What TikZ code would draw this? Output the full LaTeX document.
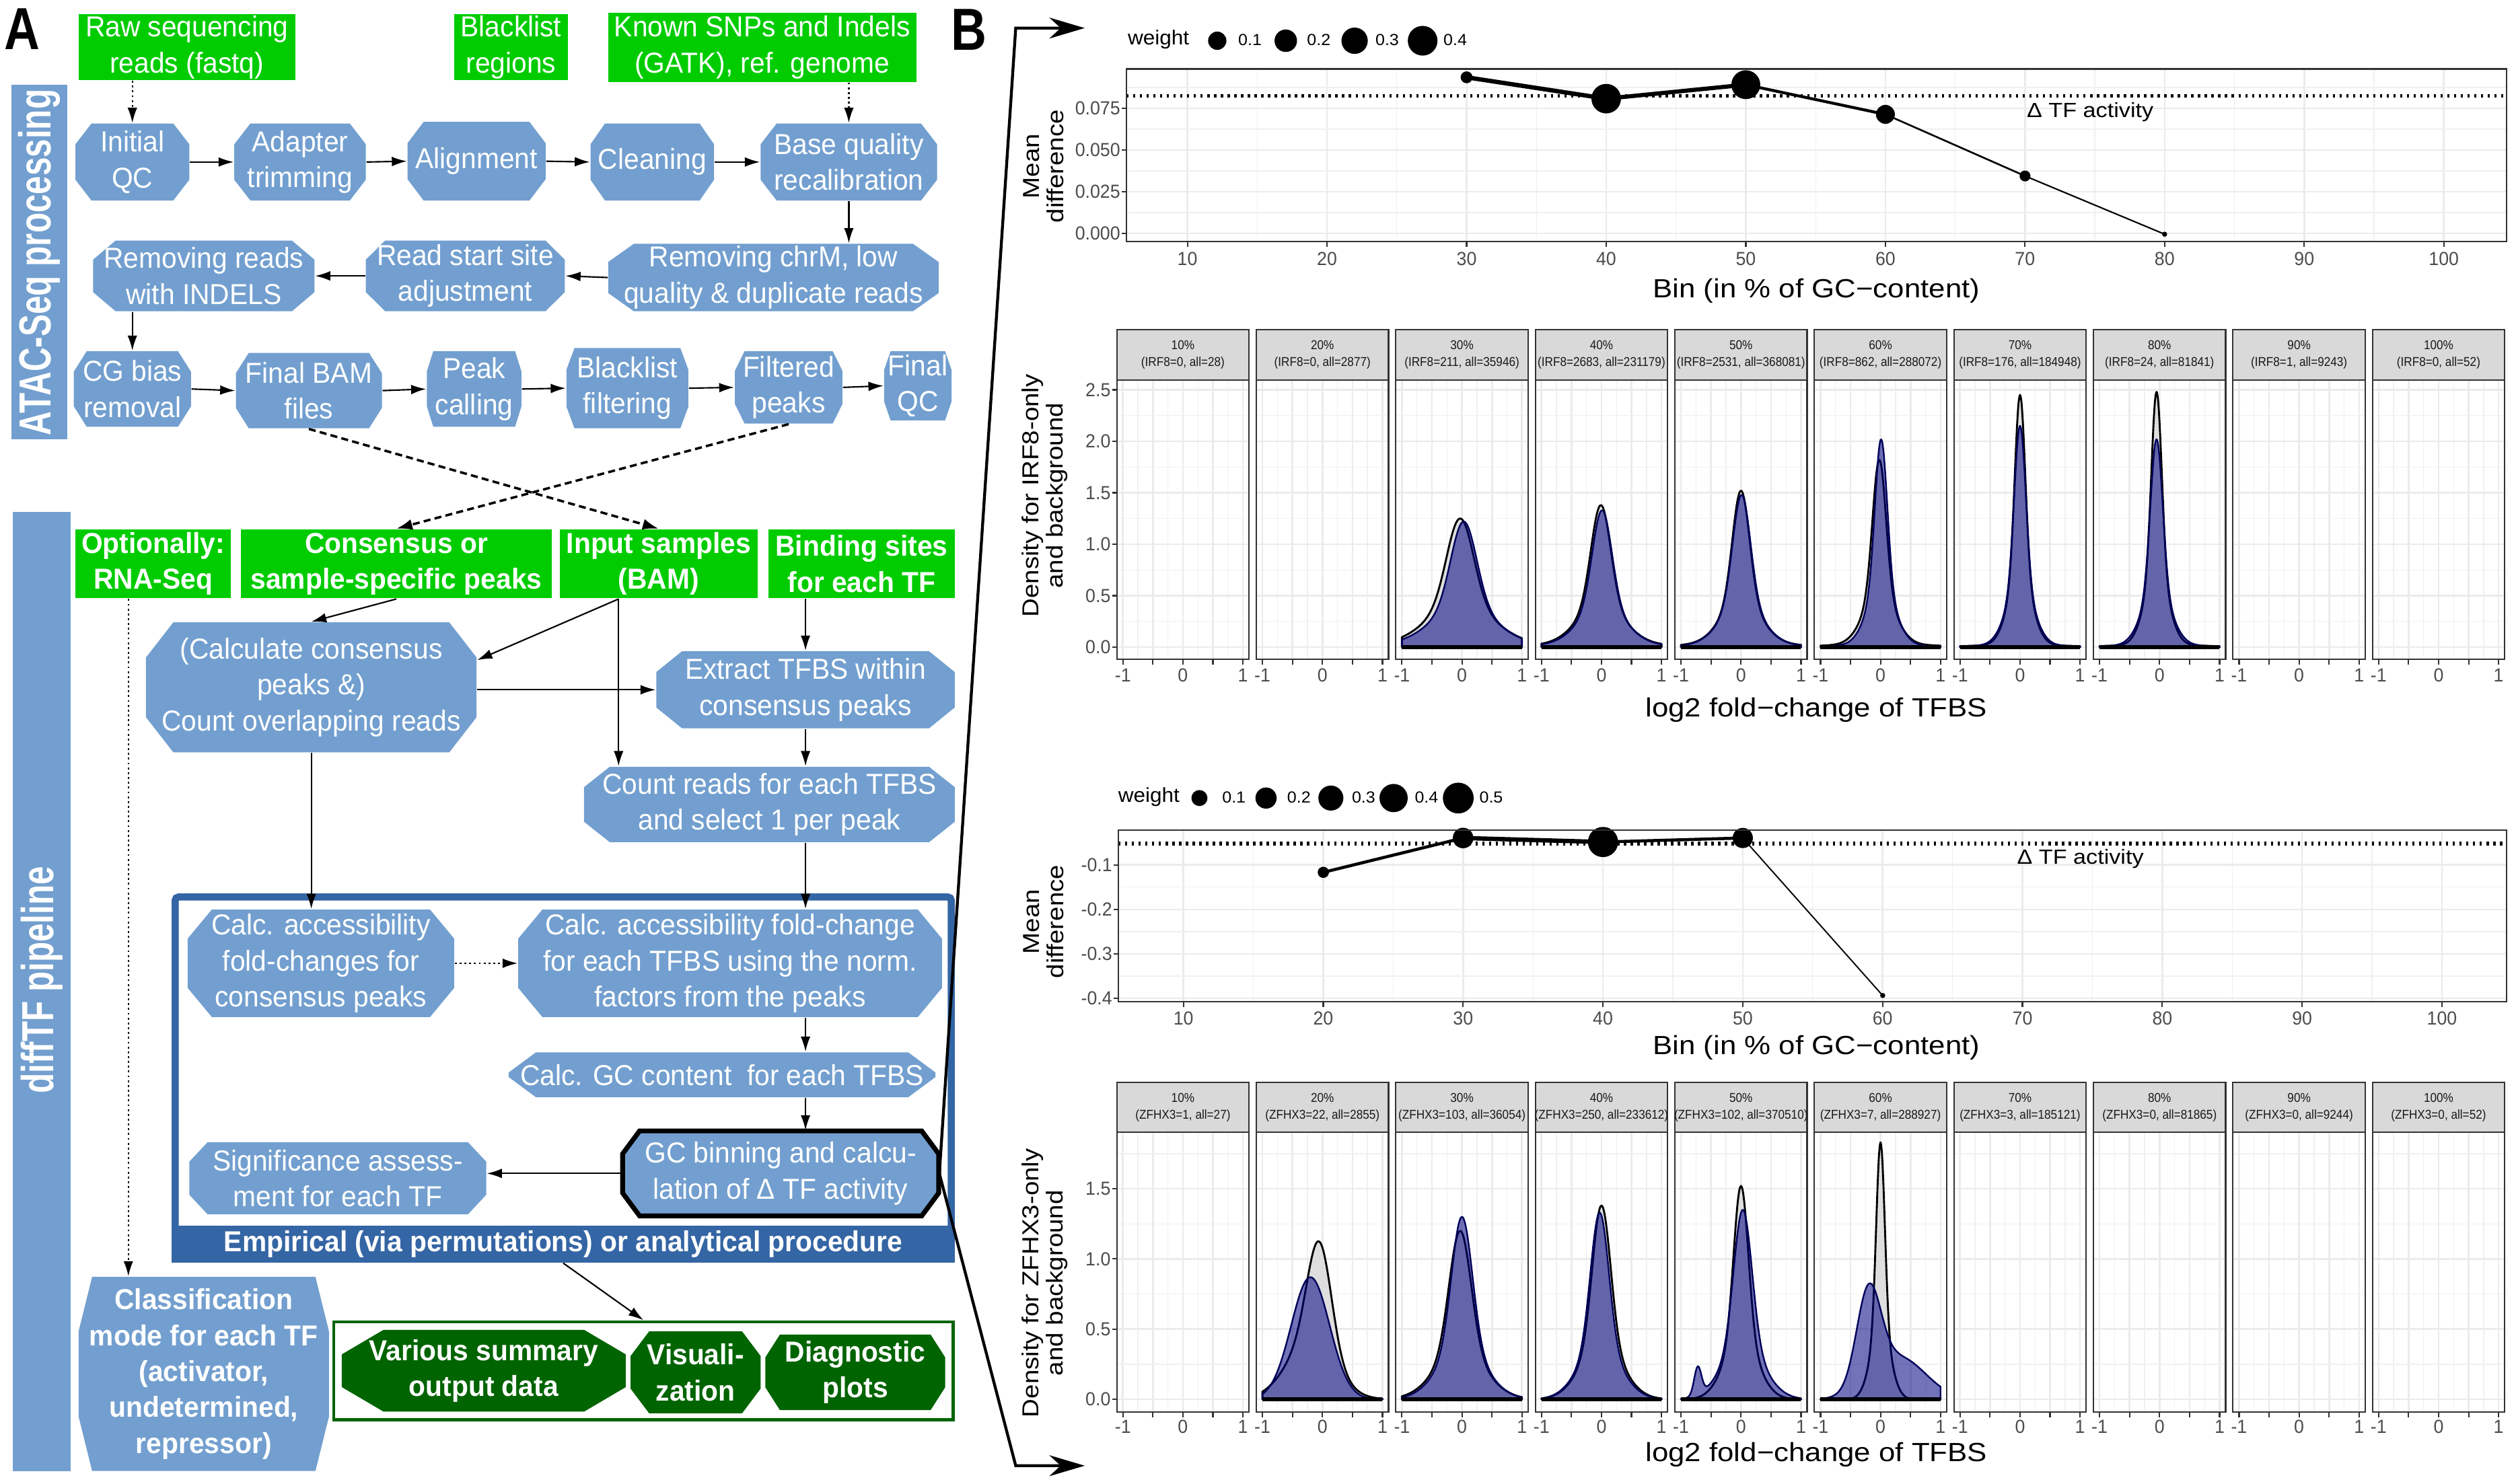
\documentclass[tikz,border=0pt]{standalone}
\usepackage{fontspec}
\setmainfont{Liberation Sans}
\newfontfamily\af[FakeStretch=0.95]{Liberation Sans}
\newfontfamily\sbf[FakeStretch=0.74]{Liberation Sans}
\newfontfamily\lblf[FakeStretch=0.83]{Liberation Sans}
\newfontfamily\tickf[FakeStretch=0.95]{Liberation Sans}
\newfontfamily\ttlf[FakeStretch=1.12]{Liberation Sans}
\newfontfamily\stripf[FakeStretch=0.9]{Liberation Sans}
\newfontfamily\lgf[FakeStretch=1.05]{Liberation Sans}
\usetikzlibrary{arrows.meta,calc,backgrounds}
\definecolor{grn}{RGB}{0,204,0}
\definecolor{blu}{RGB}{114,159,207}
\definecolor{dblu}{RGB}{52,101,164}
\definecolor{dgrn}{RGB}{0,100,0}
\definecolor{navyc}{RGB}{0,0,128}
\definecolor{navyd}{RGB}{0,0,90}
\definecolor{dgray}{RGB}{222,222,222}
\pgfmathdeclarefunction{gau}{3}{\pgfmathparse{exp(max(-9,-((#1-(#2))^2)/(2*#3*#3)))}}
\pgfmathdeclarefunction{pk}{3}{\pgfmathparse{0.72*gau(#1,#2,#3)+0.28*gau(#1,#2,2.3*#3)}}
\newcommand\oct[9]{%
  \path[#1] (#3+#7,#4) -- (#5-#7,#4) -- (#5,{#4+#8*(#6-#4)}) -- (#5,{#6-#8*(#6-#4)})
    -- (#5-#7,#6) -- (#3+#7,#6) -- (#3,{#6-#8*(#6-#4)}) -- (#3,{#4+#8*(#6-#4)}) -- cycle;
  \node[btxt, minimum width={(#5-#3)*0.5pt}, minimum height={(#6-#4)*0.5pt}] (#2)
    at ({(#3+#5)/2},{(#4+#6)/2}) {#9};}
\newcommand\gbox[7]{%
  \node[btxt, #1, minimum width={(#5-#3)*0.5pt}, minimum height={(#6-#4)*0.5pt}] (#2)
    at ({(#3+#5)/2},{(#4+#6)/2}) {#7};}
\newcommand\gdens[1]{\filldraw[fill=dgray,draw=black,line width=0.6pt,line join=round]
  plot[domain=-1:1,samples=81,smooth] (\x,{#1}) -- (1,0) -- (-1,0) -- cycle;}
\newcommand\bdens[1]{\filldraw[fill=navyc,fill opacity=0.55,draw=navyd,line width=0.5pt,line join=round]
  plot[domain=-1:1,samples=81,smooth] (\x,{#1}) -- (1,0) -- (-1,0) -- cycle;
  \draw[line width=1.1pt] (-1,0) -- (1,0);}
\begin{document}
\begin{tikzpicture}[x=0.5pt,y=-0.5pt,
  btxt/.style={font=\af\fontsize{9}{11.2}\selectfont, text=white, align=center, inner sep=0pt},
  bold/.style={font=\af\bfseries\fontsize{9}{11.2}\selectfont},
  arr/.style={-{Latex[length=4.7pt,width=3pt]}, line width=0.45pt},
  dotarr/.style={arr, dash pattern=on 0.6pt off 0.9pt},
  dasharr/.style={-{Latex[length=5pt,width=3.4pt]}, line width=0.75pt, dash pattern=on 2.2pt off 1.3pt},
  bline/.style={line width=0.9pt, -{Stealth[length=11pt,width=6.5pt,inset=3.5pt]}},
  gmaj/.style={black!8, line width=0.55pt},
  gmin/.style={black!6, line width=0.28pt},
  pborder/.style={draw=black!80, line width=0.45pt},
  tk/.style={black!80, line width=0.45pt},
  tkl/.style={font=\tickf\fontsize{5.9}{6}\selectfont, text=black!70, inner sep=0pt},
  ttl/.style={font=\ttlf\fontsize{8.2}{8.5}\selectfont, inner sep=0pt},
  ytl/.style={font=\ttlf\fontsize{7.2}{7.5}\selectfont, rotate=90, align=center, inner sep=0pt},
  stript/.style={font=\stripf\fontsize{4}{5.2}\selectfont, text=black!90, align=center, inner sep=0pt},
  lgt/.style={font=\lgf\fontsize{6.3}{6.5}\selectfont, inner sep=0pt},
  lgn/.style={font=\lgf\fontsize{5}{5}\selectfont, inner sep=0pt},
  dta/.style={font=\ttlf\fontsize{6.4}{6.5}\selectfont, inner sep=0pt}
]
\useasboundingbox (0,0) rectangle (1568,925);
\fill[white] (0,0) rectangle (1568,925);

%================ PANEL A =================
\node[font=\lblf\bfseries\fontsize{18.5}{18.5}\selectfont, inner sep=0pt] (labA) at (14,18) {A};
\node[font=\lblf\bfseries\fontsize{18.5}{18.5}\selectfont, inner sep=0pt] (labB) at (604,18.5) {B};

% side bars
\node[fill=blu, minimum width=17.5pt, minimum height=110.5pt, inner sep=0pt] (atacbar) at (24.5,163.5) {};
\node[rotate=90, text=white, font=\sbf\bfseries\fontsize{14}{14}\selectfont, inner sep=0pt] (atact) at (24.5,163.5) {ATAC-Seq processing};
\node[fill=blu, minimum width=18pt, minimum height=299pt, inner sep=0pt] (diffbar) at (26,618) {};
\node[rotate=90, text=white, font=\sbf\bfseries\fontsize{14}{14}\selectfont, inner sep=0pt] (difft) at (26,611) {diffTF pipeline};

% green inputs (top)
\gbox{fill=grn}{raw}{49}{9}{184}{50}{Raw sequencing\\reads (fastq)}
\gbox{fill=grn}{blr}{283}{9}{354}{50}{Blacklist\\regions}
\gbox{fill=grn}{snp}{379}{8}{571}{51}{Known SNPs and Indels\\(GATK), ref. genome}

% row 1
\oct{fill=blu}{iqc}{47}{77}{118}{125}{10}{0.27}{Initial\\QC}
\oct{fill=blu}{adt}{146}{77}{228}{125}{10}{0.27}{Adapter\\trimming}
\oct{fill=blu}{aln}{254}{76}{340}{125}{10}{0.27}{Alignment}
\oct{fill=blu}{cln}{368}{77}{445}{125}{9}{0.27}{Cleaning}
\oct{fill=blu}{bqr}{474}{77}{584}{125}{10}{0.27}{Base quality\\recalibration}
% row 2
\oct{fill=blu}{ind}{58}{150}{196}{194}{14}{0.27}{Removing reads\\with INDELS}
\oct{fill=blu}{rss}{228}{150}{352}{194}{12}{0.27}{Read start site\\adjustment}
\oct{fill=blu}{chm}{379}{152}{585}{194}{16}{0.27}{Removing chrM, low\\quality \& duplicate reads}
% row 3
\oct{fill=blu}{cgb}{46}{219}{119}{266}{8}{0.27}{CG bias\\removal}
\oct{fill=blu}{fbm}{147}{220}{238}{267}{8}{0.27}{Final BAM\\files}
\oct{fill=blu}{pkc}{266}{219}{325}{266}{4}{0.27}{Peak\\calling}
\oct{fill=blu}{blf}{353}{217}{429}{267}{5}{0.27}{Blacklist\\filtering}
\oct{fill=blu}{fpk}{458}{219}{525}{264}{6}{0.27}{Filtered\\peaks}
\oct{fill=blu}{fqc}{551}{219}{593}{262}{4}{0.27}{Final\\QC}

% ATAC connectors
\draw[dotarr] (iqc.north |- raw.south) -- (iqc.north);
\draw[dotarr] (bqr.north |- snp.south) -- (bqr.north);
\begin{pgfonlayer}{background}
\draw[dotarr, line width=0.35pt] (blr.south) -- (fpk.north);
\end{pgfonlayer}
\draw[arr] (iqc.east) -- (adt.west);
\draw[arr] (adt.east) -- (aln.west);
\draw[arr] (aln.east) -- (cln.west);
\draw[arr] (cln.east) -- (bqr.west);
\draw[arr] (bqr.south) -- (bqr.south |- chm.north);
\draw[arr] (chm.west) -- (rss.east);
\draw[arr] (rss.west) -- (ind.east);
\draw[arr] (cgb.north |- ind.south) -- (cgb.north);
\draw[arr] (cgb.east) -- (fbm.west);
\draw[arr] (fbm.east) -- (pkc.west);
\draw[arr] (pkc.east) -- (blf.west);
\draw[arr] (blf.east) -- (fpk.west);
\draw[arr] (fpk.east) -- (fqc.west);

% green inputs (diffTF)
\gbox{fill=grn, bold}{rna}{47}{330}{144}{373}{Optionally:\\RNA-Seq}
\gbox{fill=grn, bold}{cns}{150}{330}{344}{373}{Consensus or\\sample-specific peaks}
\gbox{fill=grn, bold}{inp}{349}{330}{472}{373}{Input samples\\(BAM)}
\gbox{fill=grn, bold}{bnd}{479}{330}{595}{373}{Binding sites\\for each TF}

\draw[dasharr] (fbm.south) -- (inp.north);
\draw[dasharr] (fpk.south) -- (cns.north);

% diffTF boxes
\oct{fill=blu}{clc}{91}{388}{297}{469}{17}{0.27}{\fontsize{9}{12}\selectfont(Calculate consensus\\peaks \&)\\Count overlapping reads}
\oct{fill=blu}{ext}{409}{406}{595}{454}{16}{0.27}{Extract TFBS within\\consensus peaks}
\oct{fill=blu}{cnt}{364}{478}{595}{525}{16}{0.27}{Count reads for each TFBS\\and select 1 per peak}

% frame
\draw[dblu, line width=2.2pt, rounded corners=1pt] (109.2,559.2) rectangle (592.8,784.8);
\node[minimum width=244pt, minimum height=115pt, inner sep=0pt] (frame) at (351,672) {};
\fill[dblu] (107,764) rectangle (595,787);
\node[btxt, font=\af\bfseries\fontsize{9}{11}\selectfont] (emp) at (351,775.5) {Empirical (via permutations) or analytical procedure};

\oct{fill=blu}{acp}{117}{567}{283}{634}{15}{0.27}{Calc. accessibility\\fold-changes for\\consensus peaks}
\oct{fill=blu}{afc}{323}{567}{587}{634}{15}{0.27}{Calc. accessibility fold-change\\for each TFBS using the norm.\\factors from the peaks}
\oct{fill=blu}{gcc}{317}{656}{583}{684}{17}{0.45}{Calc. GC content\ \ for each TFBS}
\oct{fill=blu, draw=black, line width=1.5pt}{gcb}{388}{705}{585}{758}{10.6}{0.27}{GC binning and calcu-\\lation of Δ TF activity}
\oct{fill=blu}{sig}{118}{712}{303}{757}{11.4}{0.27}{Significance assess-\\ment for each TF}
\oct{fill=blu}{cls}{49}{796}{205}{917}{8.4}{0.28}{\textbf{Classification}\\\textbf{mode for each TF}\\\textbf{(activator,}\\\textbf{undetermined,}\\\textbf{repressor)}}

% outputs
\node[draw=dgrn, line width=1pt, fill=white, minimum width=193pt, minimum height=30.5pt, inner sep=0pt] (outf) at (401,854.5) {};
\oct{fill=dgrn}{vsum}{213}{829}{390}{880}{26}{0.3}{\textbf{Various summary}\\\textbf{output data}}
\oct{fill=dgrn}{vis}{393}{830}{474}{881}{11.5}{0.3}{\textbf{Visuali-}\\\textbf{zation}}
\oct{fill=dgrn}{dgp}{477}{832}{589}{879}{9}{0.3}{\textbf{Diagnostic}\\\textbf{plots}}

% diffTF connectors
\draw[arr] (cns.south) -- (clc.north);
\coordinate (inpl) at ($(inp.south)+(-25,0)$);
\draw[arr] (inpl) -- ($(clc.east)+(0,-17)$);
\draw[arr] (inpl) -- (inpl |- cnt.north);
\draw[arr] (clc.east |- ext.west) -- (ext.west);
\draw[arr] (ext.north |- bnd.south) -- (ext.north);
\draw[arr] (ext.south) -- (ext.south |- cnt.north);
\draw[arr] (clc.south) -- (clc.south |- acp.north);
\draw[arr] (ext.south |- cnt.south) -- (ext.south |- afc.north);
\draw[dotarr] (acp.east) -- (afc.west);
\draw[arr] (ext.south |- afc.south) -- (ext.south |- gcc.north);
\draw[arr] (ext.south |- gcc.south) -- (ext.south |- gcb.north);
\draw[arr] (gcb.west) -- (sig.east |- gcb.west);
\coordinate (rnal) at ($(rna.south)+(-15.5,0)$);
\draw[dotarr] (rnal) -- (rnal |- cls.north);
\draw[arr] (frame.south) -- (outf.north);

% links to panel B
\coordinate (bt) at (633,17.5);
\coordinate (bte) at (676,17.5);
\coordinate (bb) at (633,913.7);
\coordinate (bbe) at (676,913.7);
\draw[bline] (gcb.east) -- (bt) -- (bte);
\draw[bline] (gcb.east) -- (bb) -- (bbe);

%================ PANEL B : plot 1 =================
\node[lgt] (lw1) at (722,24.5) {weight};
\fill (758.6,25.4) circle[radius=2.85pt];
\fill (801.3,25.4) circle[radius=3.5pt];
\fill (844.2,25.4) circle[radius=4.1pt];
\fill (886.6,25.4) circle[radius=4.63pt];
\node[lgn] (l1a) at (779,25) {0.1};
\node[lgn] (l1b) at (821.9,25) {0.2};
\node[lgn] (l1c) at (864.5,25) {0.3};
\node[lgn] (l1d) at (906.9,25) {0.4};

\fill[white] (702,43) rectangle (1562,150.5);
\foreach \b in {15,25,...,95} \draw[gmin] ({740+8.7*(\b-10)},43) -- ({740+8.7*(\b-10)},150.5);
\foreach \b in {10,20,...,100} \draw[gmaj] ({740+8.7*(\b-10)},43) -- ({740+8.7*(\b-10)},150.5);
\foreach \v in {0.0125,0.0375,0.0625,0.0875} \draw[gmin] (702,{145.6-1041.3*\v}) -- (1562,{145.6-1041.3*\v});
\foreach \v in {0,0.025,0.05,0.075} \draw[gmaj] (702,{145.6-1041.3*\v}) -- (1562,{145.6-1041.3*\v});
\draw[line width=1.2pt, dash pattern=on 0.7pt off 1.4pt] (702,59.8) -- (1562,59.8);
\coordinate (a30) at (914,48.2);
\coordinate (a40) at (1001,61.5);
\coordinate (a50) at (1088,52.8);
\coordinate (a60) at (1175,71.3);
\coordinate (a70) at (1262,109.7);
\coordinate (a80) at (1349,146);
\draw[line width=1.35pt] (a30) -- (a40);
\draw[line width=1.3pt] (a40) -- (a50);
\draw[line width=0.9pt] (a50) -- (a60);
\draw[line width=0.55pt] (a60) -- (a70);
\draw[line width=0.45pt] (a70) -- (a80);
\fill (a30) circle[radius=1.85pt];
\fill (a40) circle[radius=4.6pt];
\fill (a50) circle[radius=4.5pt];
\fill (a60) circle[radius=2.95pt];
\fill (a70) circle[radius=1.7pt];
\fill (a80) circle[radius=0.8pt];
\node[dta] (dta1) at (1302.6,69.9) {Δ TF activity};
\draw[pborder] (702,43) rectangle (1562,150.5);
\foreach \v/\t in {0/0.000,0.025/0.025,0.05/0.050,0.075/0.075} {
  \draw[tk] (699,{145.6-1041.3*\v}) -- (702,{145.6-1041.3*\v});
  \node[tkl, anchor=east] (y1\t) at (698.5,{145.6-1041.3*\v}) {\t};}
\foreach \b in {10,20,...,100} {
  \draw[tk] ({740+8.7*(\b-10)},150.5) -- ({740+8.7*(\b-10)},154);
  \node[tkl] (x1\b) at ({740+8.7*(\b-10)},161.5) {\b};}
\node[ttl] (xt1) at (1132,181.5) {Bin (in \% of GC−content)};
\node[ytl] (yt1) at (650.5,103.7) {Mean\\difference};

%================ PANEL B : plot 2 (IRF8 densities) =================
\foreach \k in {0,...,9} {
  \pgfmathsetmacro\L{696+86.95*\k}
  \pgfmathsetmacro\R{\L+82.4}
  \pgfmathsetmacro\C{\L+41.2}
  \fill[black!15] (\L,205.5) rectangle (\R,236.8);
  \draw[pborder] (\L,205.5) rectangle (\R,236.8);
  \fill[white] (\L,236.8) rectangle (\R,410.9);
  \foreach \u in {-0.75,-0.25,0.25,0.75} \draw[gmin] ({\C+37.4*\u},236.8) -- ({\C+37.4*\u},410.9);
  \foreach \u in {-1,-0.5,0,0.5,1} {
    \draw[gmaj] ({\C+37.4*\u},236.8) -- ({\C+37.4*\u},410.9);
    \draw[tk] ({\C+37.4*\u},410.9) -- ({\C+37.4*\u},414.4);}
  \foreach \v in {0.25,0.75,...,2.25} \draw[gmin] (\L,{403.4-64.15*\v}) -- (\R,{403.4-64.15*\v});
  \foreach \v in {0,0.5,...,2.5} \draw[gmaj] (\L,{403.4-64.15*\v}) -- (\R,{403.4-64.15*\v});
  \foreach \u/\t/\i in {-1/-1/a,0/0/b,1/1/c} \node[tkl] (irx\k\i) at ({\C+37.4*\u},420.8) {\t};
}
\foreach \k/\p/\s in {0/10/{(IRF8=0, all=28)},1/20/{(IRF8=0, all=2877)},2/30/{(IRF8=211, all=35946)},
  3/40/{(IRF8=2683, all=231179)},4/50/{(IRF8=2531, all=368081)},5/60/{(IRF8=862, all=288072)},
  6/70/{(IRF8=176, all=184948)},7/80/{(IRF8=24, all=81841)},8/90/{(IRF8=1, all=9243)},9/100/{(IRF8=0, all=52)}}
  \node[stript] (irs\k) at ({696+86.95*\k+41.2},221.2) {\p\%\\\s};

\begin{scope}[shift={(911.1,403.4)},x=18.7pt,y=32.075pt]
 \gdens{1.15*pk(\x,-0.03,0.22)+0.1*gau(\x,0,0.8)}
 \bdens{1.13*pk(\x,0.03,0.21)+0.09*gau(\x,0,0.8)}
\end{scope}
\begin{scope}[shift={(998.05,403.4)},x=18.7pt,y=32.075pt]
 \gdens{1.33*pk(\x,-0.01,0.16)+0.05*gau(\x,0,0.8)}
 \bdens{1.29*pk(\x,0.01,0.16)+0.04*gau(\x,0,0.8)}
\end{scope}
\begin{scope}[shift={(1085,403.4)},x=18.7pt,y=32.075pt]
 \gdens{1.48*pk(\x,0,0.14)+0.04*gau(\x,0,0.8)}
 \bdens{1.45*pk(\x,0.01,0.145)+0.03*gau(\x,0,0.8)}
\end{scope}
\begin{scope}[shift={(1171.95,403.4)},x=18.7pt,y=32.075pt]
 \gdens{1.79*pk(\x,-0.02,0.11)+0.03*gau(\x,0,0.8)}
 \bdens{2.0*pk(\x,0.01,0.1)+0.02*gau(\x,0,0.8)}
\end{scope}
\begin{scope}[shift={(1258.9,403.4)},x=18.7pt,y=32.075pt]
 \gdens{2.43*pk(\x,0,0.085)+0.02*gau(\x,0,0.8)}
 \bdens{2.13*pk(\x,0,0.095)+0.02*gau(\x,0,0.8)}
\end{scope}
\begin{scope}[shift={(1345.85,403.4)},x=18.7pt,y=32.075pt]
 \gdens{2.46*pk(\x,-0.05,0.085)+0.02*gau(\x,-0.05,0.8)}
 \bdens{2.0*pk(\x,-0.05,0.1)+0.02*gau(\x,0,0.8)}
\end{scope}
\foreach \k in {0,...,9} \draw[pborder] ({696+86.95*\k},236.8) rectangle ({696+86.95*\k+82.4},410.9);
\foreach \v/\t in {0/0.0,0.5/0.5,1/1.0,1.5/1.5,2/2.0,2.5/2.5} {
  \draw[tk] (693,{403.4-64.15*\v}) -- (696,{403.4-64.15*\v});
  \node[tkl, anchor=east] (y2\t) at (692.5,{403.4-64.15*\v}) {\t};}
\node[ttl] (xt2) at (1132,442.5) {log2 fold−change of TFBS};
\node[ytl] (yt2) at (651,309) {Density for IRF8-only\\and background};

%================ PANEL B : plot 3 =================
\node[lgt] (lw3) at (716,497) {weight};
\fill (747.5,497.5) circle[radius=2.5pt];
\fill (789,497.5) circle[radius=3.3pt];
\fill (829.4,497.5) circle[radius=3.9pt];
\fill (868.5,497.5) circle[radius=4.4pt];
\fill (908.8,497.5) circle[radius=4.8pt];
\node[lgn] (l3a) at (769,497) {0.1};
\node[lgn] (l3b) at (809.5,497) {0.2};
\node[lgn] (l3c) at (849.8,497) {0.3};
\node[lgn] (l3d) at (889,497) {0.4};
\node[lgn] (l3e) at (929.3,497) {0.5};

\fill[white] (697,517.5) rectangle (1562,624.4);
\foreach \b in {15,25,...,95} \draw[gmin] ({737.5+8.715*(\b-10)},517.5) -- ({737.5+8.715*(\b-10)},624.4);
\foreach \b in {10,20,...,100} \draw[gmaj] ({737.5+8.715*(\b-10)},517.5) -- ({737.5+8.715*(\b-10)},624.4);
\foreach \v in {-0.05,-0.15,-0.25,-0.35} \draw[gmin] (697,{511.47-277.3*\v}) -- (1562,{511.47-277.3*\v});
\foreach \v in {-0.1,-0.2,-0.3,-0.4} \draw[gmaj] (697,{511.47-277.3*\v}) -- (1562,{511.47-277.3*\v});
\draw[line width=1.2pt, dash pattern=on 0.7pt off 1.4pt] (697,525.9) -- (1562,525.9);
\coordinate (z20) at (824.7,543.8);
\coordinate (z30) at (911.8,522.4);
\coordinate (z40) at (999,524.9);
\coordinate (z50) at (1086.1,522.4);
\coordinate (z60) at (1173.3,620.6);
\draw[line width=0.95pt] (z20) -- (z30);
\draw[line width=1.35pt] (z30) -- (z40);
\draw[line width=0.95pt] (z40) -- (z50);
\draw[line width=0.4pt] (z50) -- (z60);
\fill (z20) circle[radius=1.75pt];
\fill (z30) circle[radius=3.2pt];
\fill (z40) circle[radius=4.7pt];
\fill (z50) circle[radius=3.15pt];
\fill (z60) circle[radius=0.8pt];
\node[dta] (dta3) at (1296.5,535.4) {Δ TF activity};
\draw[pborder] (697,517.5) rectangle (1562,624.4);
\foreach \v/\t/\i in {-0.1/-0.1/a,-0.2/-0.2/b,-0.3/-0.3/c,-0.4/-0.4/d} {
  \draw[tk] (694,{511.47-277.3*\v}) -- (697,{511.47-277.3*\v});
  \node[tkl, anchor=east] (y3\i) at (693.5,{511.47-277.3*\v}) {\t};}
\foreach \b in {10,20,...,100} {
  \draw[tk] ({737.5+8.715*(\b-10)},624.4) -- ({737.5+8.715*(\b-10)},627.9);
  \node[tkl] (x3\b) at ({737.5+8.715*(\b-10)},635) {\b};}
\node[ttl] (xt3) at (1132,653) {Bin (in \% of GC−content)};
\node[ytl] (yt3) at (650.5,574.5) {Mean\\difference};

%================ PANEL B : plot 4 (ZFHX3 densities) =================
\foreach \k in {0,...,9} {
  \pgfmathsetmacro\L{696+86.95*\k}
  \pgfmathsetmacro\R{\L+82.4}
  \pgfmathsetmacro\C{\L+41.2}
  \fill[black!15] (\L,674.7) rectangle (\R,705.8);
  \draw[pborder] (\L,674.7) rectangle (\R,705.8);
  \fill[white] (\L,705.8) rectangle (\R,880.3);
  \foreach \u in {-0.75,-0.25,0.25,0.75} \draw[gmin] ({\C+37.4*\u},705.8) -- ({\C+37.4*\u},880.3);
  \foreach \u in {-1,-0.5,0,0.5,1} {
    \draw[gmaj] ({\C+37.4*\u},705.8) -- ({\C+37.4*\u},880.3);
    \draw[tk] ({\C+37.4*\u},880.3) -- ({\C+37.4*\u},883.8);}
  \foreach \v in {0.25,0.75,1.25,1.75} \draw[gmin] (\L,{872.3-87.5*\v}) -- (\R,{872.3-87.5*\v});
  \foreach \v in {0,0.5,1,1.5} \draw[gmaj] (\L,{872.3-87.5*\v}) -- (\R,{872.3-87.5*\v});
  \foreach \u/\t/\i in {-1/-1/a,0/0/b,1/1/c} \node[tkl] (zfx\k\i) at ({\C+37.4*\u},889.5) {\t};
}
\foreach \k/\p/\s in {0/10/{(ZFHX3=1, all=27)},1/20/{(ZFHX3=22, all=2855)},2/30/{(ZFHX3=103, all=36054)},
  3/40/{(ZFHX3=250, all=233612)},4/50/{(ZFHX3=102, all=370510)},5/60/{(ZFHX3=7, all=288927)},
  6/70/{(ZFHX3=3, all=185121)},7/80/{(ZFHX3=0, all=81865)},8/90/{(ZFHX3=0, all=9244)},9/100/{(ZFHX3=0, all=52)}}
  \node[stript] (zfs\k) at ({696+86.95*\k+41.2},690.3) {\p\%\\\s};

\begin{scope}[shift={(824.15,872.3)},x=18.7pt,y=43.75pt]
 \gdens{0.75*gau(\x,-0.05,0.2)+0.4*gau(\x,-0.2,0.4)}
 \bdens{0.87*gau(\x,-0.2,0.32)}
\end{scope}
\begin{scope}[shift={(911.1,872.3)},x=18.7pt,y=43.75pt]
 \gdens{1.2*pk(\x,-0.03,0.18)}
 \bdens{1.3*pk(\x,0,0.17)}
\end{scope}
\begin{scope}[shift={(998.05,872.3)},x=18.7pt,y=43.75pt]
 \gdens{1.38*pk(\x,0,0.15)}
 \bdens{1.33*pk(\x,-0.03,0.15)}
\end{scope}
\begin{scope}[shift={(1085,872.3)},x=18.7pt,y=43.75pt]
 \gdens{1.52*pk(\x,0,0.12)}
 \bdens{1.35*pk(\x,0.03,0.15)+0.2*gau(\x,-0.72,0.06)}
\end{scope}
\begin{scope}[shift={(1171.95,872.3)},x=18.7pt,y=43.75pt]
 \gdens{1.83*pk(\x,0,0.07)}
 \bdens{0.66*gau(\x,-0.2,0.2)+0.3*gau(\x,0.3,0.45)}
\end{scope}
\foreach \k in {0,...,9} \draw[pborder] ({696+86.95*\k},705.8) rectangle ({696+86.95*\k+82.4},880.3);
\foreach \v/\t in {0/0.0,0.5/0.5,1/1.0,1.5/1.5} {
  \draw[tk] (693,{872.3-87.5*\v}) -- (696,{872.3-87.5*\v});
  \node[tkl, anchor=east] (y4\t) at (692.5,{872.3-87.5*\v}) {\t};}
\node[ttl] (xt4) at (1132,907) {log2 fold−change of TFBS};
\node[ytl] (yt4) at (651,799.8) {Density for ZFHX3-only\\and background};
\end{tikzpicture}
\end{document}
